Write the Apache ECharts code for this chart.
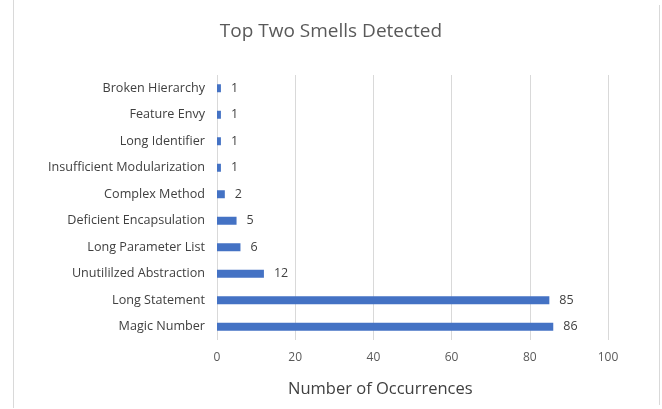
<!DOCTYPE html>
<html>
<head>
<meta charset="utf-8">
<script src="https://cdn.jsdelivr.net/npm/echarts@6/dist/echarts.min.js"></script>
<style>
html, body { margin: 0; padding: 0; background: #fff; }
#main { width: 662px; height: 409px; }
</style>
</head>
<body>
<div id="main"></div>
<script>
// categories listed bottom to top, as the y axis draws them
var categories = ['Magic Number', 'Long Statement', 'Unutililzed Abstraction', 'Long Parameter List',
    'Deficient Encapsulation', 'Complex Method', 'Insufficient Modularization', 'Long Identifier',
    'Feature Envy', 'Broken Hierarchy'];
var counts = [86, 85, 12, 6, 5, 2, 1, 1, 1, 1];
var xTicks = [0, 20, 40, 60, 80, 100];

var myChart = echarts.init(document.getElementById('main'));
var font = 'Open Sans, Lato, sans-serif';

var option = {
    backgroundColor: '#fff',
    animation: false,
    title: {
        text: 'Top Two Smells Detected',
        left: 'center',
        top: 17,
        textStyle: { fontFamily: font, fontSize: 19, fontWeight: 'normal', color: '#595959' }
    },
    graphic: [
        { type: 'line', shape: { x1: 13.5, y1: 0, x2: 13.5, y2: 408 }, style: { stroke: '#d9d9d9', lineWidth: 1 } },
        { type: 'line', shape: { x1: 659.5, y1: 5, x2: 659.5, y2: 405 }, style: { stroke: '#d9d9d9', lineWidth: 1 } },
        // axis title sits left of the plot centre in the original
        {
            type: 'text', left: 288, top: 381,
            style: { text: 'Number of Occurrences', fontFamily: font, fontSize: 16.5, fill: '#404040' }
        }
    ],
    grid: { left: 217, right: 54, top: 75, bottom: 69, containLabel: false },
    xAxis: {
        type: 'value',
        min: xTicks[0],
        max: xTicks[xTicks.length - 1],
        interval: 20,
        axisLine: { show: false },
        axisTick: { show: false },
        axisLabel: { fontFamily: font, fontSize: 12, color: '#595959', margin: 12 },
        splitLine: { show: true, lineStyle: { color: '#d9d9d9', width: 1 } }
    },
    yAxis: {
        type: 'category',
        data: categories,
        axisLine: { show: false },
        axisTick: { show: false },
        axisLabel: { fontFamily: font, fontSize: 12.6, color: '#404040', margin: 12 }
    },
    series: [{
        type: 'bar',
        data: counts,
        barWidth: 8,
        itemStyle: { color: '#4472c4' },
        label: {
            show: true,
            position: 'right',
            distance: 10,
            fontFamily: font,
            fontSize: 12.5,
            color: '#404040'
        }
    }]
};

myChart.setOption(option);
window.addEventListener('resize', function () {
    myChart.resize();
});
</script>
</body>
</html>
